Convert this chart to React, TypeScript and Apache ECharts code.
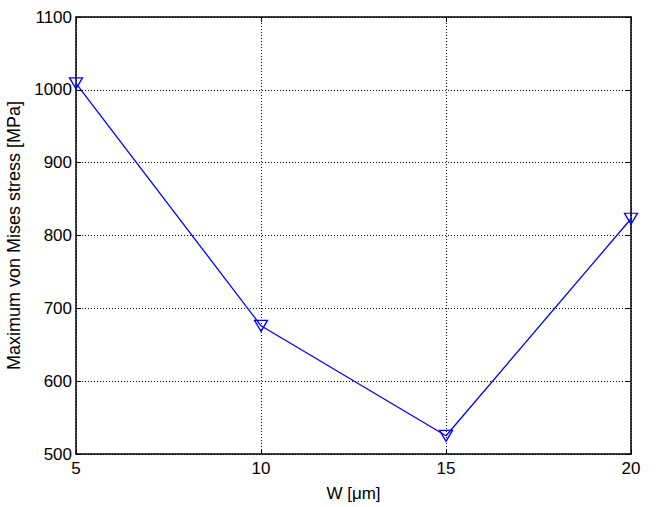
import React, { useEffect, useRef } from "react";
import * as echarts from "echarts";

const wValues = [5, 10, 15, 20];
const stressValues = [1009, 676, 525, 823];
const xTicks = [5, 10, 15, 20];
const yRange = [500, 1100];

export default function App() {
  const ref = useRef<HTMLDivElement>(null);
  useEffect(() => {
    if (!ref.current) return;
    const chart = echarts.init(ref.current, null, { renderer: "svg" });
    const font = "Liberation Sans, Arial, sans-serif";
    const fs = 17;
    const gridLine = { show: true, lineStyle: { color: "#000", type: [1, 2], width: 1 } };
    const axisLine = { show: true, lineStyle: { color: "#000", width: 1.5 } };
    const tick = { show: true, inside: true, length: 5, lineStyle: { color: "#000" } };
    chart.setOption({
      animation: false,
      backgroundColor: "#fff",
      grid: { left: 76, right: 25, top: 17, bottom: 53, containLabel: false, outerBoundsMode: "none" },
      xAxis: [
        {
          type: "value",
          min: xTicks[0],
          max: xTicks[xTicks.length - 1],
          interval: 5,
          name: "W [μm]",
          nameLocation: "middle",
          nameGap: 31,
          nameTextStyle: { fontFamily: font, fontSize: fs, color: "#000" },
          axisLine,
          axisTick: tick,
          axisLabel: { fontFamily: font, fontSize: fs, color: "#000", margin: 6, formatter: (v: number) => String(v) },
          splitLine: gridLine,
        },
        {
          type: "value",
          position: "top",
          min: xTicks[0],
          max: xTicks[xTicks.length - 1],
          interval: 5,
          axisLine,
          axisTick: tick,
          axisLabel: { show: false },
          splitLine: { show: false },
        },
      ],
      yAxis: [
        {
          type: "value",
          min: yRange[0],
          max: yRange[1],
          interval: 100,
          name: "Maximum von Mises stress [MPa]",
          nameLocation: "middle",
          nameGap: 45,
          nameTextStyle: { fontFamily: font, fontSize: 18, color: "#000" },
          axisLine,
          axisTick: tick,
          axisLabel: { fontFamily: font, fontSize: fs, color: "#000", margin: 4, formatter: (v: number) => String(v) },
          splitLine: gridLine,
        },
        {
          type: "value",
          position: "right",
          min: yRange[0],
          max: yRange[1],
          interval: 100,
          axisLine,
          axisTick: tick,
          axisLabel: { show: false },
          splitLine: { show: false },
        },
      ],
      series: [
        {
          type: "line",
          data: wValues.map((w, i) => [w, stressValues[i]]),
          lineStyle: { color: "#0000ff", width: 1.3 },
          symbol: "triangle",
          symbolRotate: 180,
          symbolSize: [13, 11],
          showAllSymbol: true,
          itemStyle: { color: "rgba(0,0,0,0)", borderColor: "#0000ff", borderWidth: 1.3 },
          emphasis: { disabled: true },
          clip: false,
          z: 5,
        },
      ],
    });
    return () => chart.dispose();
  }, []);
  return <div ref={ref} style={{ position: "absolute", left: 0, top: 0, width: 656, height: 507 }} />;
}
